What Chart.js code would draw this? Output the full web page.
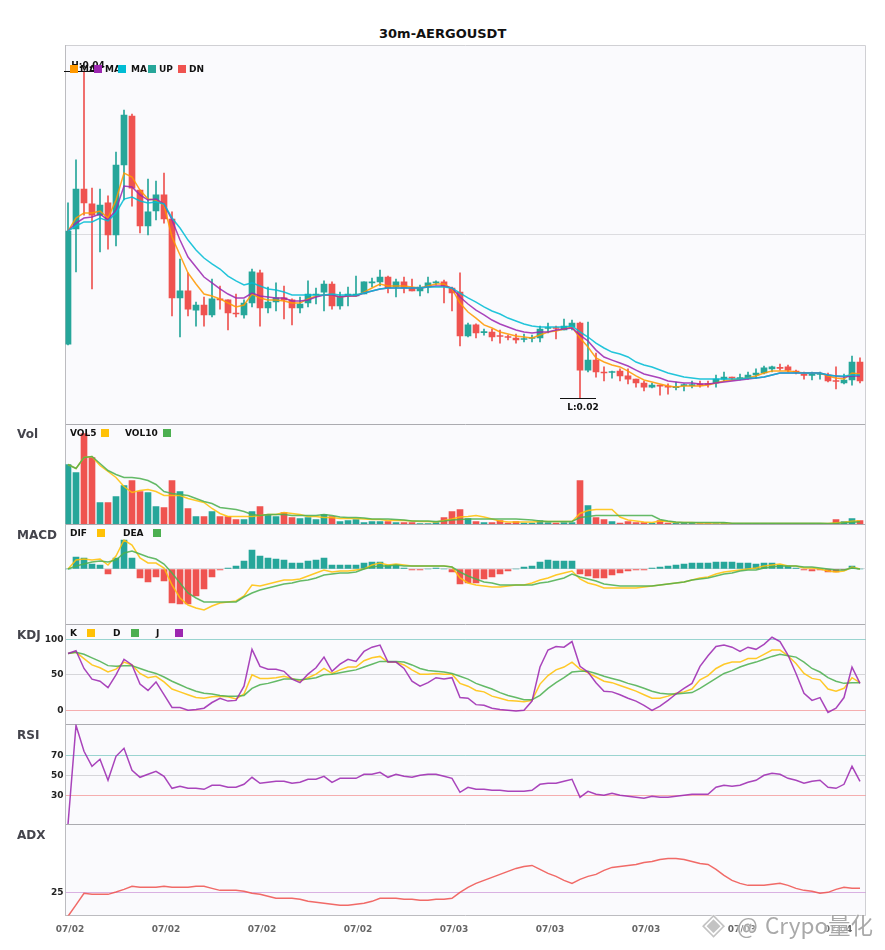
<!DOCTYPE html>
<html>
<head>
<meta charset="utf-8">
<title>30m-AERGOUSDT</title>
<script src="https://cdn.jsdelivr.net/npm/chart.js@4"></script>
<style>
  html, body { margin: 0; padding: 0; background: #fff; }
  #stage { position: relative; width: 885px; height: 950px; overflow: hidden; font-family: "DejaVu Sans", sans-serif; }
  #stage canvas { position: absolute; left: 0; }
  .txt { position: absolute; white-space: nowrap; font-weight: bold; line-height: 14px; }
  .swatch { position: absolute; width: 8px; height: 8px; }
</style>
</head>
<body>
<div id="stage"></div>
<script>
// --- DATA --- prices are in units of 0.00001
const opens = [
  2330,3034,3278,3187,3119,3193,2997,3425,3725,3272,
  3052,3144,3242,3095,2612,2655,2538,2569,2508,2606,
  2600,2520,2508,2581,2765,2551,2587,2612,2600,2551,
  2581,2630,2648,2697,2563,2624,2624,2636,2704,2710,
  2740,2679,2710,2673,2655,2679,2704,2710,2673,2648,
  2379,2447,2400,2404,2379,2373,2367,2358,2364,2367,
  2425,2431,2416,2434,2459,2171,2232,2156,2156,2165,
  2135,2116,2092,2067,2079,2073,2064,2076,2076,2086,
  2086,2092,2116,2128,2119,2122,2141,2153,2178,2184,
  2190,2165,2141,2138,2144,2141,2104,2092,2110,2220];
const closes = [
  3021,3278,3193,3119,3180,2997,3425,3731,3284,3052,
  3138,3242,3095,2612,2655,2544,2569,2508,2606,2600,
  2520,2514,2581,2771,2551,2587,2612,2600,2551,2575,
  2636,2636,2697,2563,2624,2636,2636,2710,2710,2740,
  2673,2710,2673,2655,2679,2704,2707,2685,2642,2379,
  2447,2398,2404,2373,2376,2370,2355,2361,2367,2422,
  2428,2425,2440,2459,2171,2232,2159,2153,2159,2135,
  2116,2092,2067,2079,2073,2067,2067,2079,2079,2079,
  2082,2116,2128,2122,2122,2141,2153,2184,2190,2181,
  2171,2159,2138,2141,2147,2104,2101,2110,2220,2104];
const highs = [
  3193,3456,4000,3284,3278,3236,3504,3761,3737,3272,
  3339,3327,3376,3138,2850,2765,2587,2618,2728,2685,
  2600,2636,2600,2789,2783,2679,2704,2685,2606,2618,
  2716,2673,2716,2710,2648,2679,2746,2710,2734,2783,
  2746,2728,2740,2728,2691,2740,2716,2722,2679,2765,
  2459,2453,2422,2422,2416,2385,2391,2391,2385,2440,
  2459,2440,2483,2477,2465,2465,2275,2190,2165,2178,
  2178,2116,2104,2092,2079,2086,2098,2086,2104,2104,
  2104,2141,2159,2128,2147,2159,2178,2196,2196,2208,
  2202,2171,2159,2159,2159,2153,2190,2147,2257,2245];
const lows = [
  2324,2771,3119,2667,2893,2911,2930,3211,3174,3009,
  2997,3089,3070,2502,2373,2502,2440,2440,2496,2544,
  2416,2496,2489,2557,2440,2520,2532,2483,2447,2520,
  2557,2575,2532,2544,2544,2563,2624,2636,2679,2685,
  2642,2618,2642,2655,2624,2642,2691,2581,2532,2318,
  2373,2367,2385,2349,2336,2355,2336,2343,2343,2343,
  2398,2361,2416,2416,2000,2159,2128,2104,2122,2104,
  2086,2067,2043,2061,2018,2024,2049,2043,2061,2067,
  2067,2067,2104,2110,2110,2116,2122,2147,2159,2171,
  2159,2147,2116,2110,2116,2098,2055,2086,2079,2092];
const maFast = [
  3021,3101,3132,3132,3144,3101,3211,3376,3352,3272,
  3217,3211,3180,2985,2875,2765,2697,2636,2624,2606,
  2581,2557,2569,2636,2612,2600,2600,2593,2581,2581,
  2606,2624,2630,2630,2618,2624,2624,2648,2673,2697,
  2685,2685,2685,2679,2673,2685,2697,2697,2667,2581,
  2526,2489,2447,2428,2404,2391,2379,2373,2367,2385,
  2404,2410,2422,2434,2367,2312,2245,2220,2202,2190,
  2165,2135,2110,2098,2086,2073,2067,2073,2073,2073,
  2079,2092,2104,2110,2116,2122,2135,2153,2165,2165,
  2165,2159,2153,2153,2153,2135,2122,2116,2153,2147];
const maMid = [
  3021,3070,3101,3107,3125,3089,3150,3297,3291,3242,
  3211,3217,3187,3089,2966,2862,2801,2740,2704,2667,
  2636,2612,2612,2642,2624,2618,2612,2612,2593,2593,
  2600,2618,2630,2630,2618,2624,2624,2642,2655,2667,
  2673,2673,2673,2673,2673,2679,2685,2685,2673,2618,
  2575,2538,2508,2477,2453,2434,2416,2404,2398,2404,
  2404,2416,2422,2428,2385,2349,2293,2251,2232,2214,
  2196,2171,2147,2135,2122,2104,2098,2092,2092,2086,
  2086,2092,2098,2104,2110,2116,2122,2128,2141,2153,
  2153,2153,2153,2153,2153,2141,2135,2128,2135,2135];
const maSlow = [
  3021,3052,3077,3077,3101,3083,3132,3217,3229,3205,
  3193,3199,3187,3101,3040,2966,2905,2856,2820,2789,
  2746,2716,2691,2704,2685,2667,2661,2648,2630,2630,
  2630,2630,2630,2636,2630,2630,2630,2642,2655,2667,
  2673,2673,2673,2673,2673,2679,2679,2679,2673,2642,
  2612,2587,2557,2532,2514,2489,2471,2453,2440,2434,
  2434,2434,2434,2440,2404,2373,2336,2306,2281,2269,
  2251,2220,2202,2190,2171,2153,2141,2128,2122,2116,
  2116,2116,2116,2116,2116,2122,2122,2128,2141,2153,
  2153,2153,2153,2153,2153,2141,2135,2135,2141,2141];

const volumes = [
  600,520,910,670,220,220,280,390,440,330,
  320,180,170,440,330,160,80,80,130,80,
  80,50,50,130,180,100,80,120,70,60,
  70,50,100,80,30,40,50,20,30,30,
  30,20,20,20,10,10,20,70,130,150,
  60,30,20,20,40,15,30,15,15,40,
  20,15,20,20,440,190,70,50,30,15,
  30,20,20,15,40,15,15,15,15,10,
  10,10,20,7,7,7,7,7,7,7,
  7,7,7,7,7,7,50,30,60,40];
const vol5 = [
  600,560,670,680,590,530,470,380,320,340,
  350,330,290,290,290,260,240,220,160,110,
  80,80,80,80,90,100,100,120,110,100,
  80,80,70,70,60,60,60,55,50,50,
  40,40,40,35,30,30,25,40,55,75,
  80,90,75,55,35,25,25,25,25,30,
  30,30,30,30,110,140,150,150,150,75,
  45,35,25,20,35,30,20,20,20,15,
  15,15,15,10,10,10,10,10,10,10,
  10,10,10,10,10,10,17,23,33,37];
const vol10 = [
  600,560,670,680,610,540,500,470,470,460,
  440,400,330,310,300,290,260,230,210,170,
  160,150,130,100,90,100,100,100,90,90,
  90,90,100,90,75,70,70,65,55,55,
  55,50,45,35,35,35,30,35,45,50,
  55,55,55,55,55,55,55,50,45,35,
  30,30,30,30,70,80,90,90,90,90,
  90,90,90,90,50,35,25,20,20,20,
  20,20,20,13,13,13,13,13,13,13,
  13,13,13,13,13,10,10,17,23,27];

const macdHist = [
  0,12,11,5,4,-5,11,29,11,-9,
  -13,-8,-12,-34,-35,-35,-27,-20,-8,-1,
  1,3,8,19,13,11,10,9,6,6,
  8,9,11,4,4,4,4,6,7,7,
  4,4,1,-1,-1,0,1,0,-3,-15,
  -14,-14,-10,-8,-5,-2,0,2,3,7,
  9,8,8,8,-5,-7,-9,-9,-6,-4,
  -2,-1,-1,1,2,3,4,5,6,6,
  6,7,7,7,6,6,5,6,6,4,
  3,1,-1,-2,-1,-3,-3,-1,3,0];
const dif = [
  0,9,10,9,10,4,13,29,24,11,
  6,6,1,-16,-29,-36,-39,-41,-37,-34,
  -33,-32,-27,-16,-17,-15,-13,-11,-11,-10,
  -7,-4,-1,-3,-2,-2,-1,0,4,6,
  4,5,4,3,3,3,3,3,2,-9,
  -14,-16,-17,-18,-18,-17,-16,-16,-14,-11,
  -9,-6,-4,-2,-10,-14,-16,-19,-19,-19,
  -19,-19,-18,-17,-16,-15,-14,-13,-11,-9,
  -8,-5,-3,-2,-1,0,1,3,4,5,
  3,3,1,1,0,-2,-3,-2,2,0];
const dea = [
  0,3,5,7,8,7,9,16,18,15,
  12,10,5,-4,-14,-24,-29,-33,-33,-33,
  -33,-33,-28,-24,-21,-19,-17,-15,-14,-12,
  -11,-9,-6,-5,-4,-4,-3,0,2,3,
  3,4,3,3,3,3,3,3,2,-3,
  -7,-10,-13,-14,-16,-16,-16,-16,-16,-14,
  -13,-11,-9,-5,-8,-10,-12,-15,-16,-17,
  -17,-17,-17,-17,-16,-15,-14,-13,-11,-10,
  -9,-7,-5,-4,-2,-1,-1,1,2,3,
  3,3,2,2,1,0,-1,-1,1,0];

const kLine = [
  80,82,73,64,60,54,58,68,64,52,
  46,48,40,30,26,22,18,17,19,20,
  19,16,23,50,45,45,46,48,45,41,
  46,51,59,52,57,61,61,70,74,76,
  68,68,64,57,51,51,52,51,51,38,
  34,28,26,20,17,14,13,12,14,37,
  49,57,61,68,58,53,47,41,39,35,
  31,27,22,17,17,20,24,26,30,43,
  49,59,65,68,68,73,73,79,85,85,
  77,66,52,45,43,30,27,31,46,39];
const dLine = [
  80,82,79,74,69,63,62,63,63,59,
  55,52,47,41,36,31,27,24,23,21,
  20,20,21,31,36,38,41,44,44,43,
  44,46,50,51,53,55,57,61,65,69,
  69,69,68,64,59,56,55,54,52,48,
  44,38,34,30,25,21,18,15,15,21,
  31,39,46,54,55,55,52,48,45,42,
  38,35,31,27,24,23,23,24,25,31,
  38,45,52,56,61,65,68,72,76,79,
  77,75,68,59,54,46,41,38,39,39];
const jLine = [
  80,84,59,44,41,32,50,72,64,37,
  28,40,22,4,4,0,1,3,11,17,
  13,14,34,86,62,58,58,55,44,39,
  51,60,75,55,65,72,69,83,89,92,
  68,68,59,41,34,39,46,44,46,18,
  17,8,7,3,1,0,-1,0,13,61,
  85,90,89,97,62,54,39,27,26,22,
  17,13,7,0,6,14,23,31,38,62,
  77,90,92,89,83,89,86,93,103,97,
  78,52,24,14,18,-3,3,18,61,38];

const rsiLine = [
  1,100,74,59,66,45,69,77,55,48,
  51,54,49,37,39,37,37,36,40,40,
  38,38,41,48,42,43,44,44,42,43,
  46,46,49,43,47,47,47,51,51,53,
  48,51,49,48,50,51,51,49,47,33,
  38,36,36,35,35,34,34,34,35,41,
  42,42,44,46,28,34,31,30,32,30,
  29,28,27,29,28,28,29,30,31,31,
  31,38,40,39,40,43,45,50,52,51,
  47,45,42,44,45,38,37,41,59,44];
const adxLine = [
  13,18.7,24.5,24,24,24,25.2,26.5,28,27.5,
  27.5,27.5,28,27.5,27.5,27.5,28,28,27,26,
  26,26,25.5,24.5,24,23,22,22,22,21.5,
  20.5,20,19.5,19,18.5,18.5,19,19.5,20.5,22,
  22,22,21.5,21.5,21,21,21.5,21.5,22,25,
  27.5,29.5,31,32.5,34,35.5,37,38,38.5,36.5,
  34.5,33,31,29.5,31.5,33,34,36,37.5,38,
  38.5,39,40,40.5,41.5,42,42,41.5,40.5,39.5,
  39,36.5,33.5,31,29.5,28.5,28.5,28.5,29,29.5,
  28.5,27,26,25.5,24.5,25,26.5,27.5,27,27];

const tickLabels = ['07/02','07/02','07/02','07/02','07/03','07/03','07/03','07/03','07/04'];
const tickStep = 12;
const highLabel = 'H:0.04';
const lowLabel = 'L:0.02';

// --- COLOURS ---
const UP = '#26a69a', DN = '#ef5350';
const ORANGE = '#ff9800', PURPLE = '#9c27b0', CYAN = '#00bcd4';
const YELLOW = '#ffc107', GREEN = '#4caf50';
const PANEL_BG = '#fafafd';
const GRID_UP = 'rgba(38,166,154,0.45)', GRID_MID = '#d6d6da', GRID_DN = 'rgba(239,83,80,0.45)';

const stage = document.getElementById('stage');
const xPoints = values => values.map((y, x) => ({ x, y }));
const fromE5 = v => v * 0.00001;
const candleColors = opens.map((o, i) => closes[i] >= o ? UP : DN);

function lineSet(values, color, width) {
    return { type: 'line', data: xPoints(values), borderColor: color + 'dd', borderWidth: width || 1.5, pointRadius: 0, tension: 0, fill: false, order: 0 };
}

function barSet(data, colors, thickness, order) {
    return { type: 'bar', data, backgroundColor: colors, barThickness: thickness, grouped: false, minBarLength: 1, borderWidth: 0, order };
}

// fills the plot area and draws the top and right edge of each panel
const panelFrame = {
    id: 'panelFrame',
    beforeDraw(chart, args, opts) {
        const { ctx, chartArea: a } = chart;
        ctx.save();
        ctx.fillStyle = PANEL_BG;
        ctx.fillRect(a.left, a.top, a.right - a.left, a.bottom - a.top);
        ctx.lineWidth = 1;
        ctx.strokeStyle = opts.topColor;
        ctx.beginPath(); ctx.moveTo(a.left, a.top); ctx.lineTo(a.right, a.top); ctx.stroke();
        ctx.strokeStyle = '#d0d0d4';
        ctx.beginPath(); ctx.moveTo(a.right, a.top); ctx.lineTo(a.right, a.bottom); ctx.stroke();
        if (opts.bottomColor) {
            ctx.strokeStyle = opts.bottomColor;
            ctx.beginPath(); ctx.moveTo(a.left, a.bottom); ctx.lineTo(a.right, a.bottom); ctx.stroke();
        }
        ctx.restore();
    }
};

// high and low markers on the candle panel
const extremeMarks = {
    id: 'extremeMarks',
    afterDatasetsDraw(chart) {
        const { ctx, scales: { x, y } } = chart;
        const hiIdx = highs.indexOf(Math.max(...highs));
        const loIdx = lows.indexOf(Math.min(...lows));
        const hx = x.getPixelForValue(hiIdx), hy = Math.round(y.getPixelForValue(fromE5(highs[hiIdx]))) + 0.5;
        const lx = x.getPixelForValue(loIdx), ly = Math.round(y.getPixelForValue(fromE5(lows[loIdx]))) + 0.5;
        ctx.save();
        ctx.strokeStyle = '#111';
        ctx.lineWidth = 1;
        ctx.beginPath();
        ctx.moveTo(hx - 20, hy); ctx.lineTo(hx + 16, hy);
        ctx.moveTo(lx - 20, ly); ctx.lineTo(lx + 16, ly);
        ctx.stroke();
        ctx.fillStyle = '#111';
        ctx.font = 'bold 9px "DejaVu Sans"';
        ctx.textAlign = 'center';
        ctx.textBaseline = 'middle';
        ctx.fillText(highLabel, hx + 4, hy - 6);
        ctx.fillText(lowLabel, lx + 3, ly + 9);
        ctx.restore();
    }
};

function noScalePadding(s) {
    s.paddingTop = s.paddingBottom = s.paddingLeft = s.paddingRight = 0;
}

function makePanel(top, height, datasets, cfg) {
    const axisRoom = cfg.xAxis ? 25 : 0;
    const canvas = document.createElement('canvas');
    canvas.width = 885;
    canvas.height = height + 1 + axisRoom;
    canvas.style.top = top + 'px';
    stage.appendChild(canvas);

    new Chart(canvas, {
        data: { datasets },
        plugins: cfg.marks ? [panelFrame, extremeMarks] : [panelFrame],
        options: {
            responsive: false,
            animation: false,
            events: [],
            layout: { padding: { top: 0.5, right: 19.5, bottom: cfg.xAxis ? 0 : 0.5, left: 0 } },
            plugins: {
                legend: { display: false },
                tooltip: { enabled: false },
                panelFrame: { topColor: cfg.topColor || '#ababb0', bottomColor: cfg.bottomColor }
            },
            scales: {
                x: {
                    type: 'linear',
                    min: -0.3125,
                    max: 99.6875,
                    offset: false,
                    display: !!cfg.xAxis,
                    grid: { display: false },
                    border: { display: false },
                    afterBuildTicks: s => { s.ticks = tickLabels.map((_, k) => ({ value: k * tickStep })); },
                    afterFit: s => { s.height = cfg.xAxis ? 25.5 : 0; noScalePadding(s); },
                    ticks: {
                        autoSkip: false, maxRotation: 0, padding: 1, labelOffset: 2,
                        color: '#666', font: { family: 'DejaVu Sans', size: 9, weight: 'bold' },
                        callback: v => tickLabels[v / tickStep]
                    }
                },
                y: {
                    type: 'linear',
                    min: cfg.yMin,
                    max: cfg.yMax,
                    border: { display: true, color: '#bcbcc0' },
                    grid: { drawTicks: false, color: ctx => cfg.gridColors[ctx.index] || 'transparent' },
                    afterBuildTicks: s => { s.ticks = cfg.yTicks.map(value => ({ value })); },
                    afterFit: s => { s.width = 65.5; noScalePadding(s); },
                    ticks: {
                        display: !!cfg.yLabels, padding: 2, color: '#222',
                        font: { family: 'DejaVu Sans', size: 9, weight: 'bold' }
                    }
                }
            }
        }
    });
}

// --- 1. CANDLES ---
makePanel(45, 379, [
    lineSet(maSlow.map(fromE5), CYAN),
    lineSet(maMid.map(fromE5), PURPLE),
    lineSet(maFast.map(fromE5), ORANGE),
    barSet(opens.map((o, x) => ({ x, y: [fromE5(o), fromE5(closes[x])] })), candleColors, 6, 1),
    barSet(lows.map((l, x) => ({ x, y: [fromE5(l), fromE5(highs[x])] })), candleColors, 1, 2)
], { yMin: 0.01838, yMax: 0.04156, yTicks: [0.03], gridColors: ['#dcdce0'], topColor: '#d0d0d4', marks: true });

// --- 2. VOLUME ---
makePanel(424, 100, [
    lineSet(vol10, GREEN),
    lineSet(vol5, YELLOW),
    barSet(xPoints(volumes), candleColors, 6, 1)
], { yMin: 0, yMax: 1000, yTicks: [], gridColors: [] });

// --- 3. MACD ---
makePanel(524, 100, [
    lineSet(dea, GREEN),
    lineSet(dif, YELLOW),
    { ...barSet(xPoints(macdHist), macdHist.map(v => v >= 0 ? UP : DN), 6, 1), minBarLength: 0 }
], { yMin: -55.5, yMax: 44.5, yTicks: [0], gridColors: ['#dcdce0'] });

// --- 4. KDJ ---
makePanel(624, 100, [
    lineSet(jLine, PURPLE),
    lineSet(dLine, GREEN),
    lineSet(kLine, YELLOW)
], { yMin: -20, yMax: 121, yTicks: [0, 50, 100], gridColors: [GRID_DN, GRID_MID, GRID_UP], yLabels: true });

// --- 5. RSI ---
makePanel(724, 100, [
    lineSet(rsiLine, PURPLE)
], { yMin: 0.8, yMax: 100.8, yTicks: [30, 50, 70], gridColors: [GRID_DN, GRID_MID, GRID_UP], yLabels: true });

// --- 6. ADX ---
makePanel(824, 91, [
    lineSet(adxLine, DN)
], { yMin: 13.4, yMax: 59, yTicks: [25], gridColors: ['rgba(156,39,176,0.35)'], yLabels: true, xAxis: true, bottomColor: '#bcbcc0' });

// --- TEXT LAYER ---
function addText(text, x, cy, size, color, extra) {
    const el = document.createElement('div');
    el.className = 'txt';
    el.textContent = text;
    el.style.left = x + 'px';
    el.style.top = (cy - 7) + 'px';
    el.style.fontSize = size + 'px';
    el.style.color = color;
    if (extra) Object.assign(el.style, extra);
    stage.appendChild(el);
}

function addSwatch(x, cy, color) {
    const el = document.createElement('div');
    el.className = 'swatch';
    el.style.left = x + 'px';
    el.style.top = (cy - 4) + 'px';
    el.style.background = color;
    stage.appendChild(el);
}

addText('30m-AERGOUSDT', 379, 34, 13, '#111');

[['Vol', 434], ['MACD', 535], ['KDJ', 635], ['RSI', 735], ['ADX', 835]].forEach(([name, cy]) => {
    addText(name, 17, cy, 12, '#44444c');
});

// legend rows: name, text x, swatch x, colour
const mainLegend = [['MA', 80, 70, ORANGE], ['MA', 105, 94, PURPLE], ['MA', 131, 118, CYAN], ['UP', 159, 148, UP], ['DN', 189, 178, DN]];
mainLegend.forEach(([name, tx]) => { addText(name, tx, 69, 9, '#111'); });
mainLegend.forEach(([, , sx, color]) => { addSwatch(sx, 69, color); });

[['VOL5', 70, 101, YELLOW, 433], ['VOL10', 125, 163, GREEN, 433],
 ['DIF', 70, 97, YELLOW, 533], ['DEA', 123, 153, GREEN, 533],
 ['K', 70, 87, YELLOW, 633], ['D', 113, 131, GREEN, 633], ['J', 156, 175, PURPLE, 633]]
    .forEach(([name, tx, sx, color, cy]) => {
        addText(name, tx, cy, 9, '#111');
        addSwatch(sx, cy, color);
    });

// watermark
const markShadow = { fontFamily: '"Noto Sans CJK SC", sans-serif', fontWeight: 'normal', textShadow: '0 0 2px #fff, 0 0 2px #fff', lineHeight: '30px', marginTop: '-8px' };
addText('◈', 702, 924, 30, 'rgba(170,170,170,0.7)', { ...markShadow, fontFamily: '"DejaVu Sans"' });
addText('@', 737, 924, 22, 'rgba(140,140,140,0.75)', markShadow);
addText('Crypo量化', 765, 924, 22.5, 'rgba(140,140,140,0.75)', markShadow);
</script>
</body>
</html>
